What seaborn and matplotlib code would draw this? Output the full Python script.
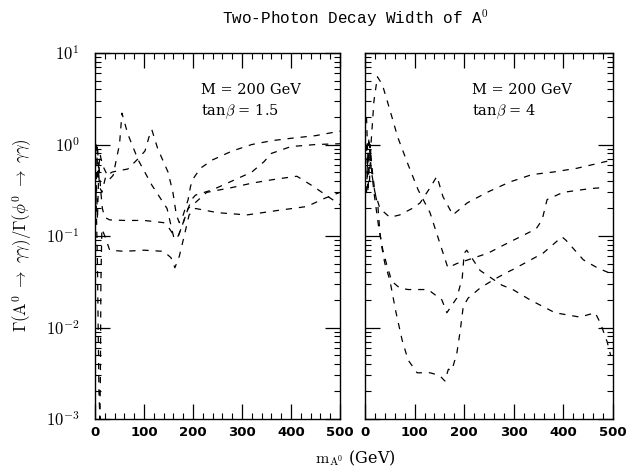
import numpy as np
import pandas as pd
import matplotlib
matplotlib.use('Agg')
import matplotlib.pyplot as plt
import seaborn as sns
from matplotlib.ticker import FixedLocator, NullFormatter, MultipleLocator

# tan(beta) = 1.5 panel, four curves (mass in GeV, width ratio)
a_m = [3, 6, 10, 15, 22, 30, 37, 45, 50, 55, 67, 88, 116, 147, 161, 170, 180, 190, 197, 205, 240, 280, 320, 345, 360, 400, 450, 500]
a_r = [1.0, 0.4, 0.8, 0.6, 0.5, 0.42, 0.46, 0.75, 1.0, 2.2, 1.3, 0.68, 0.36, 0.2, 0.095, 0.1, 0.14, 0.2, 0.25, 0.28, 0.32, 0.4, 0.5, 0.65, 0.8, 0.95, 1.0, 1.02]
b_m = [2, 5, 9, 14, 22, 35, 50, 67, 88, 102, 110, 116, 128, 149, 159, 166, 172, 180, 190, 195, 200, 215, 240, 280, 320, 360, 400, 450, 500]
b_r = [0.3, 1.0, 0.35, 0.3, 0.45, 0.5, 0.52, 0.54, 0.7, 0.85, 1.2, 1.45, 0.9, 0.5, 0.3, 0.17, 0.14, 0.17, 0.25, 0.35, 0.42, 0.55, 0.68, 0.85, 1.0, 1.1, 1.17, 1.25, 1.4]
c_m = [2, 5, 8, 12, 15, 20, 30, 60, 100, 140, 152, 163, 170, 180, 190, 200, 228, 281, 322, 371, 412, 445, 480, 500]
c_r = [0.5, 0.15, 0.6, 0.3, 0.2, 0.16, 0.15, 0.148, 0.148, 0.14, 0.12, 0.098, 0.1, 0.14, 0.2, 0.22, 0.3, 0.34, 0.38, 0.42, 0.45, 0.35, 0.26, 0.22]
d_m = [2, 5, 8, 10, 11, 12, 14, 20, 30, 60, 100, 140, 155, 163, 172, 182, 192, 205, 250, 310, 372, 432, 470, 500]
d_r = [0.3, 0.05, 0.002, 0.001, 0.003, 0.03, 0.12, 0.1, 0.07, 0.068, 0.07, 0.068, 0.058, 0.045, 0.06, 0.1, 0.17, 0.2, 0.18, 0.17, 0.19, 0.21, 0.26, 0.3]

# tan(beta) = 4 panel
e_m = [3, 6, 9, 12, 18, 25, 35, 50, 66, 87, 107, 131, 151, 167, 185, 208, 248, 286, 327, 345, 357, 367, 399, 454, 485]
e_r = [0.3, 0.8, 0.4, 1.0, 3.0, 5.5, 4.5, 2.4, 1.2, 0.6, 0.32, 0.18, 0.083, 0.045, 0.05, 0.055, 0.065, 0.083, 0.107, 0.12, 0.15, 0.25, 0.3, 0.33, 0.34]
f_m = [3, 6, 9, 13, 20, 30, 50, 70, 95, 111, 130, 145, 157, 177, 206, 246, 292, 337, 379, 427, 474, 500]
f_r = [1.0, 0.3, 0.9, 0.5, 0.3, 0.2, 0.16, 0.17, 0.2, 0.23, 0.33, 0.45, 0.27, 0.17, 0.23, 0.3, 0.39, 0.47, 0.5, 0.55, 0.63, 0.68]
g_m = [4, 8, 12, 18, 28, 36, 44, 54, 70, 87, 127, 155, 165, 185, 196, 200, 205, 232, 276, 298, 333, 383, 433, 464, 475, 488, 495]
g_r = [0.5, 1.2, 0.6, 0.3, 0.12, 0.07, 0.048, 0.032, 0.027, 0.026, 0.026, 0.02, 0.0145, 0.021, 0.035, 0.065, 0.07, 0.042, 0.029, 0.026, 0.02, 0.0145, 0.013, 0.0145, 0.011, 0.007, 0.005]
h_m = [3, 6, 10, 15, 20, 26, 30, 34, 40, 50, 62, 75, 87, 105, 131, 150, 161, 168, 175, 185, 192, 198, 208, 232, 258, 286, 298, 359, 397, 405, 440, 468, 490]
h_r = [2.0, 0.6, 1.0, 0.5, 0.3, 0.21, 0.11, 0.075, 0.05, 0.033, 0.015, 0.0072, 0.0044, 0.0032, 0.0032, 0.003, 0.0026, 0.0035, 0.0034, 0.0052, 0.0093, 0.017, 0.021, 0.027, 0.033, 0.04, 0.043, 0.065, 0.098, 0.09, 0.055, 0.045, 0.04]

panels = [
    ('tan$\\beta$ = 1.5', [(a_m, a_r), (b_m, b_r), (c_m, c_r), (d_m, d_r)]),
    ('tan$\\beta$ = 4', [(e_m, e_r), (f_m, f_r), (g_m, g_r), (h_m, h_r)]),
]

sns.set_style('ticks')
plt.rcParams['font.family'] = 'serif'
plt.rcParams['font.serif'] = ['DejaVu Serif']
plt.rcParams['mathtext.fontset'] = 'cm'
for key in ['text.color', 'axes.labelcolor', 'xtick.color', 'ytick.color', 'axes.edgecolor']:
    plt.rcParams[key] = 'black'

fig = plt.figure(figsize=(6.3, 4.71), dpi=100)
ax1 = fig.add_axes([0.1508, 0.1104, 0.3889, 0.777])
ax2 = fig.add_axes([0.5794, 0.1104, 0.3937, 0.777])

for ax, (tb, curves) in zip([ax1, ax2], panels):
    for k, (m, r) in enumerate(curves):
        df = pd.DataFrame({'m': m, 'r': r})
        sns.lineplot(data=df, x='m', y='r', ax=ax, color='black', lw=0.9,
                     sort=False, estimator=None, linestyle=(0, (5, 5.5)))
    ax.set_yscale('log')
    ax.set_xlim(0, 500)
    ax.set_ylim(1e-3, 10)
    ax.set_xlabel('')
    ax.set_ylabel('')
    ax.xaxis.set_major_locator(MultipleLocator(100))
    ax.xaxis.set_minor_locator(MultipleLocator(20))
    minors = [j * 10.0**e for e in range(-3, 1) for j in range(2, 10)]
    ax.yaxis.set_minor_locator(FixedLocator(minors))
    ax.yaxis.set_minor_formatter(NullFormatter())
    ax.tick_params(which='major', direction='in', length=11, width=0.9,
                   top=True, right=True)
    ax.tick_params(which='minor', direction='in', length=4, width=0.8,
                   top=True, right=True)
    ax.set_xticks([0, 100, 200, 300, 400, 500])
    ax.set_xticklabels(['0', '100', '200', '300', '400', '500'],
                       family='DejaVu Sans', fontweight='bold', fontsize=9.5)
    ax.tick_params(axis='x', pad=5)
    for s in ax.spines.values():
        s.set_linewidth(1.0)
    ax.text(0.433, 0.899, 'M = 200 GeV', transform=ax.transAxes,
            fontsize=10.5, va='center', ha='left')
    ax.text(0.433, 0.839, tb, transform=ax.transAxes,
            fontsize=10.5, va='center', ha='left')

ax1.set_yticks([1e-3, 1e-2, 1e-1, 1, 10])
ax1.set_yticklabels([r'$10^{-3}$', r'$10^{-2}$', r'$10^{-1}$', r'$10^{0}$', r'$10^{1}$'],
                    fontsize=12)
ax1.tick_params(axis='y', pad=11)
ax2.set_yticks([1e-3, 1e-2, 1e-1, 1, 10])
ax2.set_yticklabels([])

fig.text(0.035, 0.5, r'$\Gamma(\mathrm{A}^0\ \rightarrow\ \gamma\gamma)/\Gamma(\phi^0\ \rightarrow\ \gamma\gamma)$',
         rotation=90, va='center', ha='center', fontsize=12)
fig.text(0.564, 0.027, r'$\mathrm{m_{A^0}}$ (GeV)', ha='center', va='center', fontsize=11.5)
fig.text(0.564, 0.962, r'Two-Photon Decay Width of A$^{\mathrm{0}}$', ha='center', va='center',
         fontsize=11.5, family='Liberation Mono')

fig.savefig('out.png', dpi=100)
